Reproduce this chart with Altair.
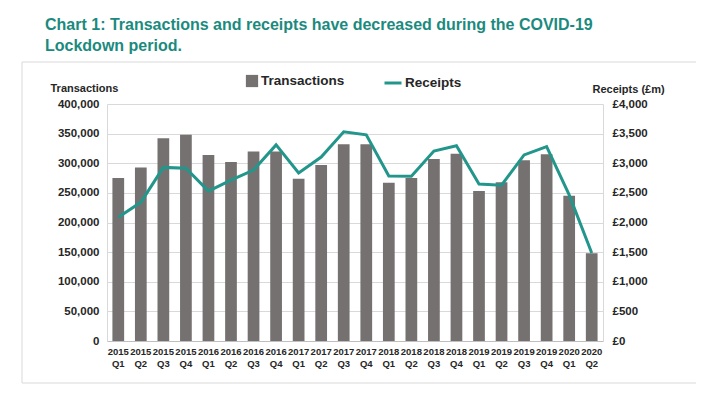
import altair as alt
import pandas as pd

quarters = ["2015 Q1", "2015 Q2", "2015 Q3", "2015 Q4",
            "2016 Q1", "2016 Q2", "2016 Q3", "2016 Q4",
            "2017 Q1", "2017 Q2", "2017 Q3", "2017 Q4",
            "2018 Q1", "2018 Q2", "2018 Q3", "2018 Q4",
            "2019 Q1", "2019 Q2", "2019 Q3", "2019 Q4",
            "2020 Q1", "2020 Q2"]
transactions = [275000, 293000, 342000, 348000,
                314000, 302000, 320000, 320000,
                274000, 297000, 332000, 332000,
                267000, 275000, 307000, 316000,
                253000, 268000, 305000, 315000,
                245000, 148000]
receipts = [2090, 2340, 2930, 2915,
            2530, 2715, 2885, 3310,
            2835, 3105, 3530, 3480,
            2785, 2780, 3205, 3295,
            2650, 2630, 3140, 3280,
            2465, 1485]

df = pd.DataFrame({"quarter": quarters, "transactions": transactions, "receipts": receipts})

FONT = "Liberation Sans"
BAR = "#767171"
TEAL = "#22968b"
GRID = "#d9d9d9"

x_enc = alt.X("quarter:N", sort=quarters,
              scale=alt.Scale(paddingInner=0.48, paddingOuter=0.24),
              axis=alt.Axis(title=None, labelExpr="split(datum.value, ' ')", labelAngle=0,
                            ticks=False, domainColor="#bfbfbf", labelFontWeight="bold",
                            labelFontSize=9.5, labelPadding=5, labelLineHeight=12,
                            labelColor="#262626", labelFont=FONT))

border = alt.Chart(pd.DataFrame({"a": [0]})).mark_rect(
    fill="white", fillOpacity=0, stroke=GRID, strokeWidth=1
).encode(x=alt.value(-85), x2=alt.value(593), y=alt.value(-42), y2=alt.value(279))

bars = alt.Chart(df).transform_calculate(s="'Transactions'").mark_bar(color=BAR).encode(
    x=x_enc,
    y=alt.Y("transactions:Q", scale=alt.Scale(domain=[0, 400000], nice=False),
            axis=alt.Axis(values=list(range(0, 400001, 50000)),
                          labelExpr="format(datum.value, ',.0f')",
                          title="Transactions", titleAngle=0, titleX=-57, titleY=-13,
                          titleAlign="left", titleBaseline="alphabetic", titleFontSize=11,
                          titleFontWeight="bold", titleFont=FONT, titleColor="#262626",
                          labelFontWeight="bold", labelFontSize=11.5, labelFont=FONT,
                          labelColor="#262626", ticks=False, labelPadding=8,
                          gridColor=GRID, domainColor=GRID)),
    fill=alt.Fill("s:N", scale=alt.Scale(domain=["Transactions"], range=[BAR]),
                  legend=alt.Legend(title=None, orient="none", legendX=138, legendY=-30,
                                    symbolType="square", symbolSize=150,
                                    labelFontSize=13.5, labelFontWeight="bold",
                                    labelFont=FONT, labelColor="#262626", labelOffset=2)),
)

line = alt.Chart(df).transform_calculate(r="'Receipts'").mark_line(strokeWidth=3, color=TEAL).encode(
    x=x_enc,
    y=alt.Y("receipts:Q", scale=alt.Scale(domain=[0, 4000], nice=False),
            axis=alt.Axis(orient="right", values=list(range(0, 4001, 500)),
                          labelExpr="'£' + format(datum.value, ',')", grid=False,
                          title="Receipts (£m)", titleAngle=0, titleX=-11, titleY=-12,
                          titleAlign="left", titleBaseline="alphabetic", titleFontSize=11,
                          titleFontWeight="bold", titleFont=FONT, titleColor="#262626",
                          labelFontWeight="bold", labelFontSize=11.5, labelFont=FONT,
                          labelColor="#262626", ticks=False, labelPadding=9,
                          domainColor=GRID)),
    stroke=alt.Stroke("r:N", scale=alt.Scale(domain=["Receipts"], range=[TEAL]),
                      legend=alt.Legend(title=None, orient="none", legendX=276, legendY=-31,
                                        symbolType="stroke", symbolSize=289,
                                        symbolStrokeWidth=3,
                                        labelFontSize=13.5, labelFontWeight="bold",
                                        labelFont=FONT, labelColor="#262626", labelOffset=2)),
)

chart = alt.layer(border, bars, line).resolve_scale(y="independent").properties(
    width=496, height=237,
    padding={"left": 99, "top": 96, "right": 93, "bottom": 46},
    autosize=alt.AutoSizeParams(type="none"),
    title=alt.TitleParams(
        text=["Chart 1: Transactions and receipts have decreased during the COVID-19",
              "Lockdown period."],
        anchor="start", frame="group", dx=-62, color="#1b8a7e", fontSize=16,
        fontWeight="bold", font=FONT, lineHeight=21, offset=8),
).configure_view(strokeWidth=0)

chart.save("out.html", embed_options={"renderer": "svg", "actions": False})
